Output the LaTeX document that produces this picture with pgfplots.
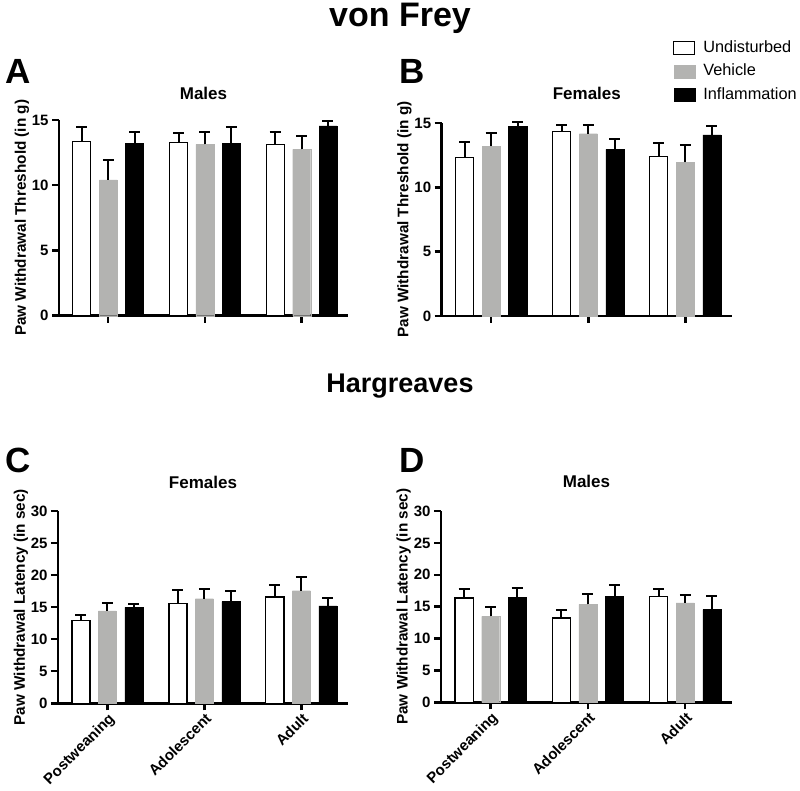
\documentclass[border=0pt]{standalone}
\usepackage{fontspec}
\setmainfont{Liberation Sans}
\usepackage{pgfplots}
\pgfplotsset{compat=1.18}
\definecolor{vehgray}{RGB}{179,179,177}

\pgfplotsset{
 panel/.style={
  scale only axis, clip=false,
  axis x line*=bottom, axis y line*=left,
  axis line style={line width=2.8pt, -},
  ybar, bar width=0.186,
  xmin=-0.51, xmax=2.48,
  ymin=0,
  xtick={0,1,2},
  tick align=outside,
  major tick length=7pt,
  every tick/.style={black, line width=2.4pt},
  tick label style={font=\bfseries\fontsize{15}{17}\selectfont},
  /pgf/number format/assume math mode=true,
  ylabel style={font=\bfseries\fontsize{15.3}{18}\selectfont, at={(axis description cs:-0.128,0.5)}, anchor=center},
  title style={font=\bfseries\fontsize{17}{20}\selectfont, at={(axis description cs:0.5,1)}, anchor=base},
  error bars/y dir=plus, error bars/y explicit,
  error bars/error bar style={line width=2pt, black},
  error bars/error mark options={rotate=90, mark size=5.5pt, line width=2pt, black},
 },
 und/.style={fill=white, draw=black, line width=1.1pt, bar shift=-0.273},
 veh/.style={fill=vehgray, draw=vehgray, line width=0.1pt, bar shift=0},
 inf/.style={fill=black, draw=black, line width=0.5pt, bar shift=0.273},
}

\begin{document}
\begin{tikzpicture}
\path (0pt,0pt) rectangle (800pt,790pt);

\node[anchor=base, font=\bfseries\fontsize{34}{40}\selectfont] at (400pt,763pt) {von Frey};
\node[anchor=base, font=\bfseries\fontsize{27}{32}\selectfont] at (400pt,397pt) {Hargreaves};

\node[anchor=base west, inner sep=0pt, font=\bfseries\fontsize{35}{40}\selectfont] at (5pt,706pt) {A};
\node[anchor=base west, inner sep=0pt, font=\bfseries\fontsize{35}{40}\selectfont] at (399pt,706pt) {B};
\node[anchor=base west, inner sep=0pt, font=\bfseries\fontsize{35}{40}\selectfont] at (5pt,317pt) {C};
\node[anchor=base west, inner sep=0pt, font=\bfseries\fontsize{35}{40}\selectfont] at (399pt,317pt) {D};

% Panel A
\begin{axis}[panel, at={(59pt,474.3pt)}, anchor=south west, width=289pt, height=195.7pt,
  ymax=15, ytick={0,5,10,15}, xticklabels={,,},
  title style={yshift=14pt},
  title={Males}, ylabel={Paw Withdrawal Threshold (in g)}]
\addplot[und] coordinates {(0,13.34) +- (0,1.12) (1,13.26) +- (0,0.72) (2,13.10) +- (0,1.00)};
\addplot[veh] coordinates {(0,10.41) +- (0,1.54) (1,13.13) +- (0,0.95) (2,12.75) +- (0,1.05)};
\addplot[inf] coordinates {(0,13.21) +- (0,0.89) (1,13.23) +- (0,1.27) (2,14.54) +- (0,0.41)};
\end{axis}

% Panel B
\begin{axis}[panel, at={(441.7pt,474pt)}, anchor=south west, width=290.3pt, height=193pt,
  ymax=15, ytick={0,5,10,15}, xticklabels={,,},
  title style={yshift=17pt},
  title={Females}, ylabel={Paw Withdrawal Threshold (in g)},
  legend image code/.code={\draw[#1] (0pt,-6.5pt) rectangle (21pt,6.5pt); \path (27pt,0pt);},
  legend style={at={(axis description cs:0.797,1.440)}, anchor=north west, draw=none, fill=none,
    inner sep=0pt, row sep=4pt, font=\fontsize{16.3}{19}\selectfont,
    nodes={inner sep=2pt, text height=12pt, text depth=3.5pt}},
  legend cell align=left]
\addplot[und] coordinates {(0,12.30) +- (0,1.19) (1,14.35) +- (0,0.49) (2,12.40) +- (0,1.04)};
\addplot[veh] coordinates {(0,13.18) +- (0,1.04) (1,14.17) +- (0,0.64) (2,11.93) +- (0,1.38)};
\addplot[inf] coordinates {(0,14.74) +- (0,0.36) (1,12.95) +- (0,0.83) (2,14.07) +- (0,0.72)};
\legend{Undisturbed,Vehicle,Inflammation}
\end{axis}

% Panel C
\begin{axis}[panel, at={(58pt,86.7pt)}, anchor=south west, width=290pt, height=192.3pt,
  ymax=30, ytick={0,5,...,30}, xticklabels={Postweaning,Adolescent,Adult},
  xticklabel style={rotate=45, anchor=north east, inner sep=1pt},
  title style={yshift=17pt},
  title={Females}, ylabel={Paw Withdrawal Latency (in sec)}]
\addplot[und] coordinates {(0,12.90) +- (0,0.88) (1,15.50) +- (0,2.13) (2,16.59) +- (0,1.92)};
\addplot[veh] coordinates {(0,14.40) +- (0,1.20) (1,16.33) +- (0,1.45) (2,17.58) +- (0,2.08)};
\addplot[inf] coordinates {(0,14.98) +- (0,0.46) (1,15.86) +- (0,1.66) (2,15.18) +- (0,1.30)};
\end{axis}

% Panel D
\begin{axis}[panel, at={(441pt,87.7pt)}, anchor=south west, width=291pt, height=191.3pt,
  ymax=30, ytick={0,5,...,30}, xticklabels={Postweaning,Adolescent,Adult},
  xticklabel style={rotate=45, anchor=north east, inner sep=1pt},
  title style={yshift=17pt},
  title={Males}, ylabel={Paw Withdrawal Latency (in sec)}]
\addplot[und] coordinates {(0,16.36) +- (0,1.41) (1,13.22) +- (0,1.21) (2,16.57) +- (0,1.20)};
\addplot[veh] coordinates {(0,13.49) +- (0,1.41) (1,15.37) +- (0,1.62) (2,15.58) +- (0,1.20)};
\addplot[inf] coordinates {(0,16.47) +- (0,1.41) (1,16.62) +- (0,1.73) (2,14.53) +- (0,2.20)};
\end{axis}
\end{tikzpicture}
\end{document}
